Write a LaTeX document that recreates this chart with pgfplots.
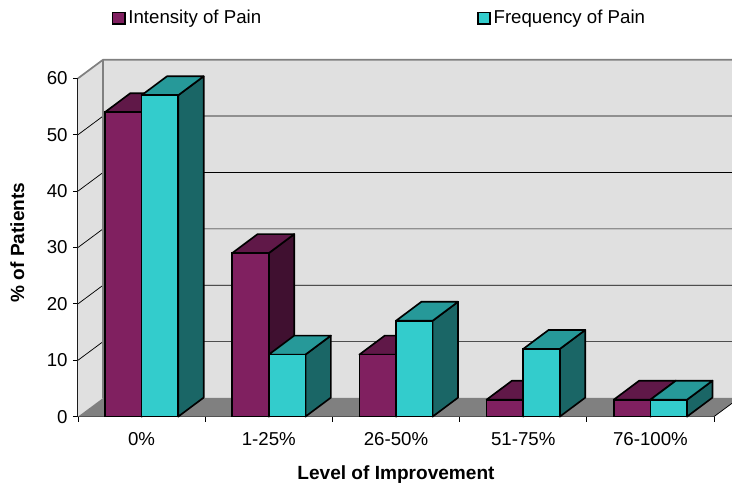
\documentclass[border=0pt]{standalone}
\usepackage{pgfplots}
\pgfplotsset{compat=1.18}
\usepackage{fontspec}
\setmainfont{Liberation Sans}
\definecolor{wallc}{HTML}{E0E0E0}
\definecolor{floorc}{HTML}{808080}
\definecolor{Afront}{HTML}{802060}
\definecolor{Atop}{HTML}{601848}
\definecolor{Aside}{HTML}{401030}
\definecolor{Bfront}{HTML}{33CCCC}
\definecolor{Btop}{HTML}{269999}
\definecolor{Bside}{HTML}{1A6666}
\newcommand{\depthbox}[5]{% left x, right x, value, top colour, side colour
  \pgfmathsetmacro{\xa}{#1+0.2}\pgfmathsetmacro{\xb}{#2+0.2}\pgfmathsetmacro{\yb}{#3+3.37}
  \addplot[forget plot,fill=#5,draw=black,line width=1.25pt,line join=round] coordinates {(#2,0) (\xb,3.37) (\xb,\yb) (#2,#3)} -- cycle;
  \addplot[forget plot,fill=#4,draw=black,line width=1.25pt,line join=round] coordinates {(#1,#3) (#2,#3) (\xb,\yb) (\xa,\yb)} -- cycle;
}
\newcommand{\gridline}[2]{\addplot[forget plot,black,line width=0.55pt] coordinates {(0,#1) (0.197,#2) (5.1415,#2)};}
\begin{document}
\fontsize{14}{16}\selectfont
\begin{tikzpicture}
\useasboundingbox (-58.5pt,-52.05pt) rectangle (490.5pt,312.45pt);
\begin{axis}[
  scale only axis, width=477pt, height=253.7pt,
  at={(0pt,0pt)}, anchor=origin,
  xmin=0, xmax=5, ymin=0, ymax=60, clip=false,
  axis lines=left, axis line style={-,black,line width=0.8pt},
  xtick={0,1,2,3,4,5}, x tick label as interval,
  xticklabels={0\%,1-25\%,26-50\%,51-75\%,76-100\%},
  ytick={0,10,20,30,40,50,60},
  tick align=outside, major tick length=3.75pt,
  tick style={black,line width=0.6pt},
  /pgf/number format/assume math mode=true,
  tick label style={font=\fontsize{14}{16}\selectfont},
  x tick label style={yshift=-3.2pt},
  y tick label style={xshift=0.8pt},
  xlabel={\textbf{Level of Improvement}},
  ylabel={\textbf{\% of Patients}},
  label style={font=\fontsize{14.3}{16}\selectfont},
  xlabel style={at={(axis description cs:0.5,-0.17)},anchor=center},
  ylabel style={at={(axis description cs:-0.0955,0.515)},anchor=center},
  legend style={draw=none,fill=none,at={(25.5pt,298.7pt)},anchor=west,
    legend columns=2,font=\fontsize{14}{16}\selectfont,
    /tikz/every even column/.append style={column sep=160pt},
    inner sep=0pt,outer sep=0pt},
  legend cell align=left,
  legend image code/.code={\draw[#1,line width=1.1pt] (0pt,-4.3pt) rectangle (9.2pt,4.3pt);},
]
% walls and floor
\addplot[forget plot,fill=wallc,draw=none] coordinates {(0,0) (0.197,3.3) (0.197,63.3) (0,60)} -- cycle;
\addplot[forget plot,fill=wallc,draw=none] coordinates {(0.197,3.3) (5.1415,3.3) (5.1415,63.3) (0.197,63.3)} -- cycle;
\addplot[forget plot,fill=floorc,draw=none] coordinates {(0,0) (5,0) (5.1415,2.36) (5.1415,3.3) (0.197,3.3)} -- cycle;
\gridline{10}{13.3}
\gridline{20}{23.3}
\gridline{30}{33.3}
\gridline{40}{43.3}
\gridline{50}{53.3}
\addplot[forget plot,black,line width=0.55pt] coordinates {(5,0) (5.1415,2.36)};
\addplot[forget plot,floorc,line width=1.3pt] coordinates {(0,60) (0.197,63.3) (5.1415,63.3)};
\addplot[forget plot,floorc,line width=1.3pt] coordinates {(0.197,63.3) (0.197,3.3)};
% intensity of pain
\depthbox{0.212}{0.5}{54}{Atop}{Aside}
\depthbox{1.212}{1.5}{29}{Atop}{Aside}
\depthbox{2.212}{2.5}{11}{Atop}{Aside}
\depthbox{3.212}{3.5}{3}{Atop}{Aside}
\depthbox{4.212}{4.5}{3}{Atop}{Aside}
\addplot[ybar,bar width=0.288,bar shift=-0.144,fill=Afront,draw=black,line width=1.25pt] coordinates {(0.5,54) (1.5,29) (2.5,11) (3.5,3) (4.5,3)};
\addlegendentry{Intensity of Pain}
% frequency of pain
\depthbox{0.5}{0.788}{57}{Btop}{Bside}
\depthbox{1.5}{1.788}{11}{Btop}{Bside}
\depthbox{2.5}{2.788}{17}{Btop}{Bside}
\depthbox{3.5}{3.788}{12}{Btop}{Bside}
\depthbox{4.5}{4.788}{3}{Btop}{Bside}
\addplot[ybar,bar width=0.288,bar shift=0.144,fill=Bfront,draw=black,line width=1.25pt] coordinates {(0.5,57) (1.5,11) (2.5,17) (3.5,12) (4.5,3)};
\addlegendentry{Frequency of Pain}
\end{axis}
\end{tikzpicture}
\end{document}
